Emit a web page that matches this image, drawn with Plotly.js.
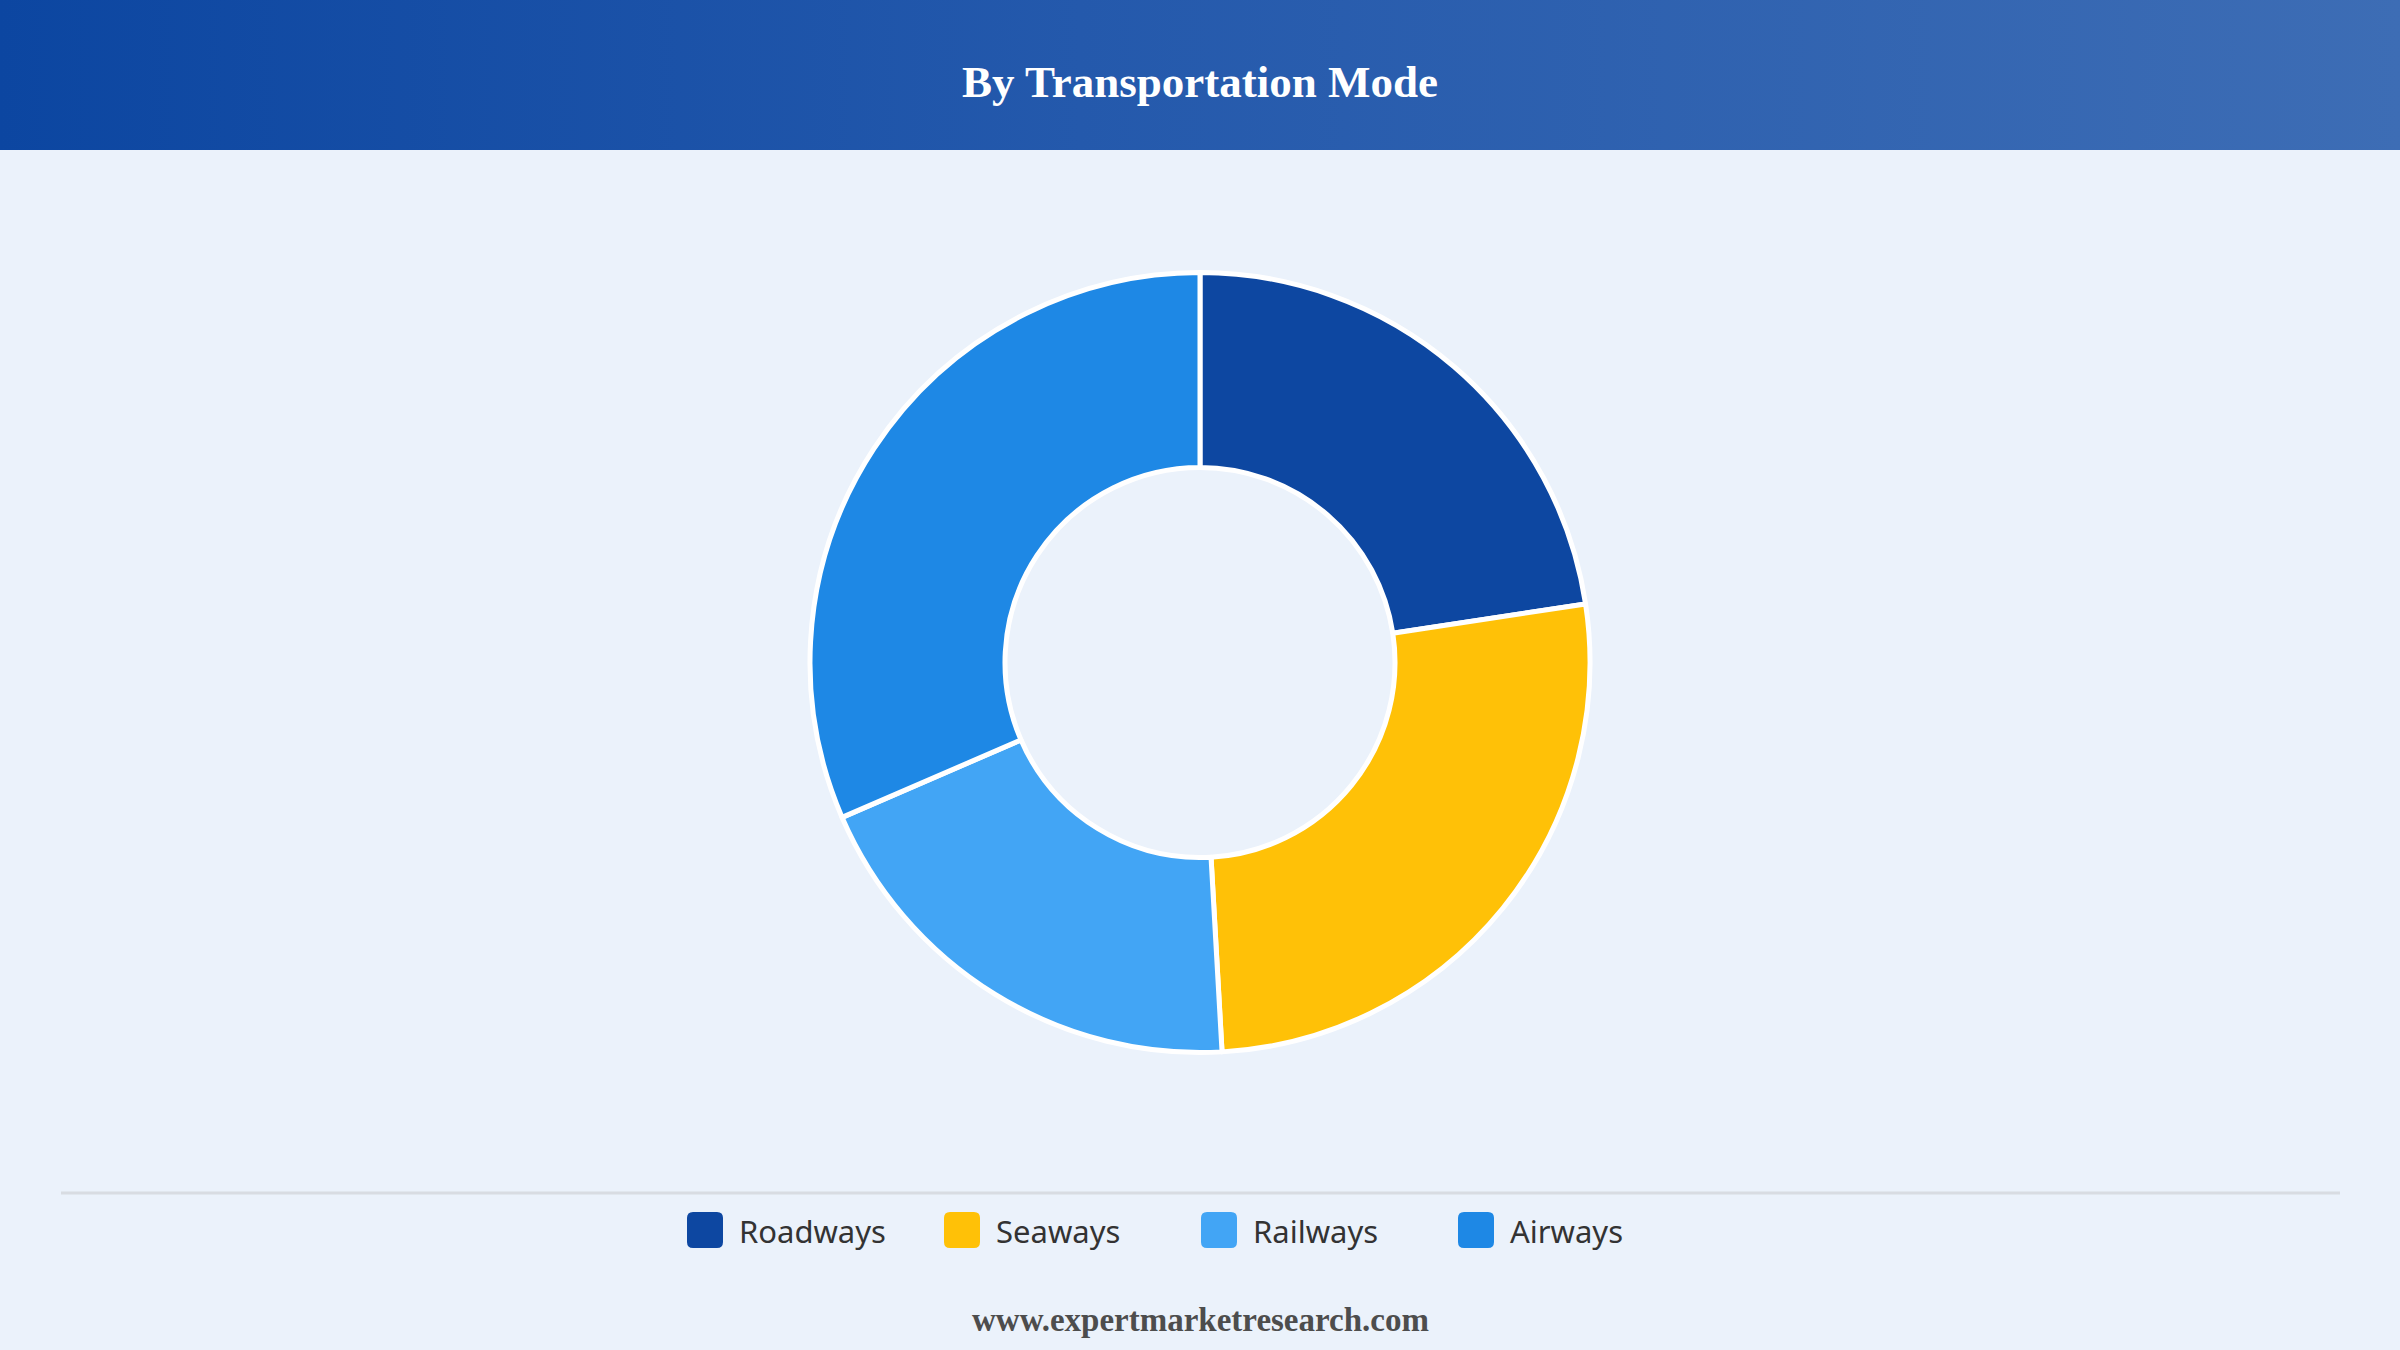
<!DOCTYPE html>
<html>
<head>
<meta charset="utf-8">
<script src="https://cdn.plot.ly/plotly-3.0.1.min.js"></script>
<style>
  html, body { margin: 0; padding: 0; background: #ebf2fb; width: 2400px; height: 1350px; overflow: hidden; }
  #header { position: absolute; left: 0; top: 0; width: 2400px; height: 150px;
            background: linear-gradient(90deg, #0c46a1 0%, #2459ac 45%, #3d6db5 100%); }
  #chart { position: absolute; left: 0; top: 0; width: 2400px; height: 1350px; }
</style>
</head>
<body>
<div id="header"></div>
<div id="chart"></div>
<script>
// ---- data ----
const chartTitle = "By Transportation Mode";
const categories = ["Roadways", "Seaways", "Railways", "Airways"];
const shares = [22.6, 26.5, 19.4, 31.5];
const sliceColors = ["#0d47a1", "#ffc107", "#42a5f5", "#1e88e5"];
const sourceText = "www.expertmarketresearch.com";

// ---- layout helpers (pixel -> paper) ----
const W = 2400, H = 1350;
const px = x => x / W;
const py = y => 1 - y / H;

// donut geometry (pixels)
const cx = 1200, cy = 662.5, R = 390;

const trace = {
  type: "pie",
  labels: categories,
  values: shares,
  hole: 0.5,
  sort: false,
  direction: "clockwise",
  rotation: 0,
  textinfo: "none",
  hoverinfo: "label+percent",
  marker: { colors: sliceColors, line: { color: "#ffffff", width: 5 } },
  domain: { x: [px(cx - R), px(cx + R)], y: [py(cy + R), py(cy - R)] },
  showlegend: false
};

// custom legend built from the data arrays
const shapes = [];
const annotations = [];
const legStartX = 687, legStep = 257, legY = 1230, sw = 36, rad = 6;
categories.forEach((c, i) => {
  const x0 = legStartX + i * legStep, x1 = x0 + sw;
  const y0 = legY - sw / 2, y1 = legY + sw / 2;
  const P = (x, y) => px(x) + "," + py(y);
  const path = "M" + P(x0 + rad, y0) + " L" + P(x1 - rad, y0) + " Q" + P(x1, y0) + " " + P(x1, y0 + rad) +
               " L" + P(x1, y1 - rad) + " Q" + P(x1, y1) + " " + P(x1 - rad, y1) +
               " L" + P(x0 + rad, y1) + " Q" + P(x0, y1) + " " + P(x0, y1 - rad) +
               " L" + P(x0, y0 + rad) + " Q" + P(x0, y0) + " " + P(x0 + rad, y0) + " Z";
  shapes.push({ type: "path", xref: "paper", yref: "paper", path: path,
                fillcolor: sliceColors[i], line: { width: 0 } });
  annotations.push({ xref: "paper", yref: "paper", x: px(x1 + 14), y: py(legY + 1),
                     xanchor: "left", yanchor: "middle", showarrow: false, text: c,
                     font: { family: "Noto Sans, Open Sans, sans-serif", size: 31, color: "#333333" } });
});

// divider line above legend
shapes.push({ type: "line", xref: "paper", yref: "paper", x0: px(61), x1: px(2340), y0: py(1193), y1: py(1193),
              line: { color: "#d8dce2", width: 3 } });

// source footer
annotations.push({ xref: "paper", yref: "paper", x: 0.5, y: py(1320), xanchor: "center", yanchor: "middle",
                   showarrow: false, text: "<b>" + sourceText + "</b>",
                   font: { family: "Liberation Serif, Times New Roman, serif", size: 33, color: "#4d4d4d" } });

const layout = {
  width: W, height: H,
  margin: { l: 0, r: 0, t: 0, b: 0, pad: 0 },
  paper_bgcolor: "rgba(0,0,0,0)",
  plot_bgcolor: "rgba(0,0,0,0)",
  title: { text: "<b>" + chartTitle + "</b>", x: 0.5, xanchor: "center", y: py(81), yanchor: "middle",
           font: { family: "Liberation Serif, Times New Roman, serif", size: 45, color: "#ffffff" } },
  showlegend: false,
  shapes: shapes,
  annotations: annotations
};

Plotly.newPlot("chart", [trace], layout, { displayModeBar: false, staticPlot: true });
</script>
</body>
</html>
